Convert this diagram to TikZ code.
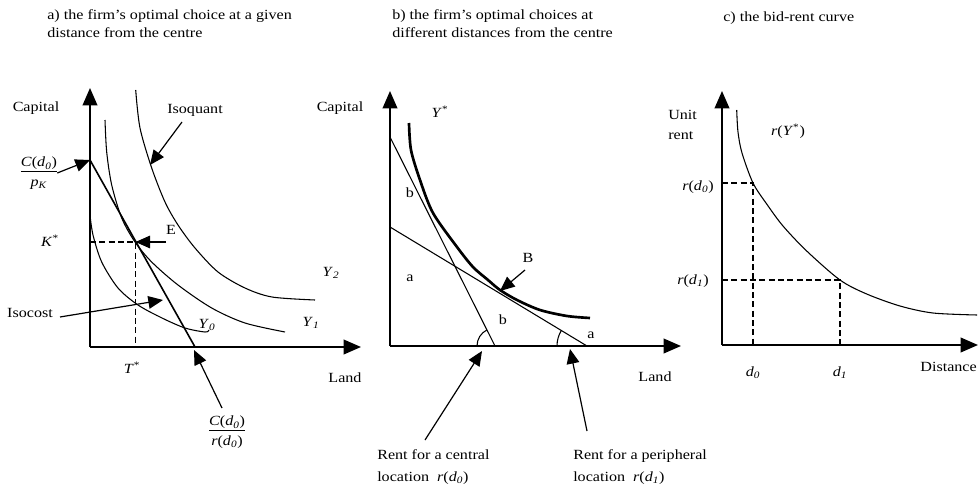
\documentclass[tikz,border=0pt]{standalone}
\usepackage{fontspec}
\setmainfont{Liberation Serif}[FakeStretch=1.15]
\usetikzlibrary{arrows.meta}
\newcommand\vi[1]{\textit{#1}}
\newcommand\vsub[2]{\textit{#1}\textsubscript{\textit{#2}}}
\begin{document}
\begin{tikzpicture}[x=0.75pt,y=-0.75pt,
  every node/.style={font=\fontsize{10.5}{13.5}\selectfont, inner sep=0pt},
  axis/.style={line width=1.2pt, -{Triangle[length=13pt,width=11pt]}},
  ptr/.style={line width=0.9pt, -{Triangle[length=11pt,width=9.5pt]}},
  curve/.style={line width=0.8pt},
  thickcurve/.style={line width=2pt},
  budget/.style={line width=0.8pt},
  guide/.style={line width=0.8pt, dash pattern=on 4.5pt off 2.5pt},
  ttl/.style={anchor=base west}]
\useasboundingbox (0,0) rectangle (978,485);

% ---------------- titles
\node[ttl] (ta1) at (47,20) {a) the firm's optimal choice at a given};
\node[ttl] (ta2) at (47,38) {distance from the centre};
\node[ttl] (tb1) at (392,20) {b) the firm's optimal choices at};
\node[ttl] (tb2) at (392,38) {different distances from the centre};
\node[ttl] (tc1) at (723,22) {c) the bid-rent curve};

% ================= panel a
\coordinate (Oa) at (90,347);
\coordinate (Ya) at (90,88);
\coordinate (Xa) at (361,347);
\draw[axis] (Oa) -- (Ya);
\draw[axis] (Oa) -- (Xa);
\node (capa) at (36,108) {Capital};
\node (landa) at (345,378) {Land};

% isoquants
\draw[curve] plot[smooth] coordinates {(135.7,90) (140,128) (151.7,168) (165,202) (178,225) (195,248) (218,272) (245,288) (272,297) (315,300)};
\draw[curve] plot[smooth] coordinates {(105,120) (106.7,152) (111.7,185) (121.7,218) (135,242) (151.7,262) (178,285) (211.7,308) (245,323) (285,332)};
\draw[curve] plot[smooth] coordinates {(90,215) (93,235) (101.7,262) (118,288) (138,305) (162,318) (185,328) (205,332) (209,330)};
\node (y0) at (207,325) {\vsub{Y}{0}};
\node (y1) at (311,323) {\vsub{Y}{1}};
\node (y2) at (331,273) {\vsub{Y}{2}};

% isocost
\coordinate (Ka0) at (90,160);
\coordinate (Ia0) at (195,347);
\draw[line width=1.2pt] (Ka0) -- (Ia0);

% E and dashed guides
\coordinate (Ept) at (135.5,242);
\coordinate (Ka) at (90,242);
\coordinate (Ta) at (135.5,347);
\draw[guide] (Ka) -- (Ept) -- (Ta);
\node (E) at (171,230) {E};
\coordinate (Etail) at (166,242);
\draw[ptr] (Etail) -- (Ept);
\node (kstar) at (50,241) {\vi{K}\textsuperscript{*}};
\node (tstar) at (132,368) {\vi{T}\textsuperscript{*}};

% labels with arrows
\node (isq) at (195,110) {Isoquant};
\coordinate (isqtail) at (182,122);
\coordinate (isqtip) at (150,165);
\draw[ptr] (isqtail) -- (isqtip);

\node (isc) at (30,313) {Isocost};
\coordinate (isctail) at (60,317);
\coordinate (isctip) at (163,300);
\draw[ptr] (isctail) -- (isctip);

\node (cpk) at (39,173) {\begin{tabular}{@{}c@{}}\vi{C}(\vsub{d}{0})\\[-1pt]\hline\rule{0pt}{11pt}\vsub{p}{K}\end{tabular}};
\draw[ptr] (cpk.east) -- (Ka0);

\node (cr) at (227,432) {\begin{tabular}{@{}c@{}}\vi{C}(\vsub{d}{0})\\[-1pt]\hline\rule{0pt}{11pt}\vi{r}(\vsub{d}{0})\end{tabular}};
\coordinate (crtail) at (222,408);
\coordinate (crtip) at (194,350);
\draw[ptr] (crtail) -- (crtip);

% ================= panel b
\coordinate (Ob) at (390,346);
\coordinate (Yb) at (390,91);
\coordinate (Xb) at (681,346);
\draw[axis] (Ob) -- (Yb);
\draw[axis] (Ob) -- (Xb);
\node (capb) at (340,108) {Capital};
\node (landb) at (655,377) {Land};
\node (ystar) at (440,112) {\vi{Y}\textsuperscript{*}};

\draw[thickcurve] plot[smooth] coordinates {(409,123) (411,150) (420,180) (433,213) (457,247) (473,267) (488,280) (500,290) (517,300) (540,310) (567,316) (590,318)};

\coordinate (Kb1) at (390,137);
\coordinate (Lb1) at (495,346);
\coordinate (Kb2) at (390,227);
\coordinate (Lb2) at (587,346);
\draw[budget] (Kb1) -- (Lb1);
\draw[budget] (Kb2) -- (Lb2);
\draw[curve] ([xshift=-13.5pt]Lb1) arc[start angle=180, end angle=243.3, radius=18];
\draw[curve] ([xshift=-22.5pt]Lb2) arc[start angle=180, end angle=211.1, radius=30];

\node (bu) at (410,193) {b};
\node (au) at (410,278) {a};
\node (bl) at (503,320) {b};
\node (al) at (591,335) {a};
\node (B) at (528,258) {B};
\coordinate (Btail) at (525,270);
\coordinate (Btip) at (500,291);
\draw[ptr] (Btail) -- (Btip);

\node[anchor=base west] (rc1) at (377,459) {Rent for a central};
\node[anchor=base west] (rc2) at (377,481) {location \ \vi{r}(\vsub{d}{0})};
\node[anchor=base west] (rp1) at (573,459) {Rent for a peripheral};
\node[anchor=base west] (rp2) at (573,481) {location \ \vi{r}(\vsub{d}{1})};
\coordinate (rctail) at (425,440);
\coordinate (rctip) at (482,351);
\draw[ptr] (rctail) -- (rctip);
\coordinate (rptail) at (587,431);
\coordinate (rptip) at (570,349);
\draw[ptr] (rptail) -- (rptip);

% ================= panel c
\coordinate (Oc) at (722,345);
\coordinate (Yc) at (722,91);
\coordinate (Xc) at (978,345);
\draw[axis] (Oc) -- (Yc);
\draw[axis] (Oc) -- (Xc);
\node[anchor=base west] (unit) at (668,119) {Unit};
\node[anchor=base west] (rent) at (668,139) {rent};
\node (rys) at (788,131) {\vi{r}(\vi{Y}\textsuperscript{*})};

\draw[curve] plot[smooth] coordinates {(736.7,110) (738,132) (742,153) (753,183) (766.7,204) (783,226) (806.7,251) (840,280) (866.7,294) (900,306) (933,313) (977,315)};

\coordinate (R0) at (722,183);
\coordinate (P0) at (753,183);
\coordinate (D0) at (753,345);
\coordinate (R1) at (722,280);
\coordinate (P1) at (840,280);
\coordinate (D1) at (840,345);
\draw[guide] (R0) -- (P0) -- (D0);
\draw[guide] (R1) -- (P1) -- (D1);

\node[anchor=east] (rd0) at (714,187) {\vi{r}(\vsub{d}{0})};
\node[anchor=east] (rd1) at (709,281) {\vi{r}(\vsub{d}{1})};
\node (d0) at (753,373) {\vsub{d}{0}};
\node (d1) at (840,373) {\vsub{d}{1}};
\node[anchor=east] (dist) at (977,367) {Distance};
\end{tikzpicture}
\end{document}
